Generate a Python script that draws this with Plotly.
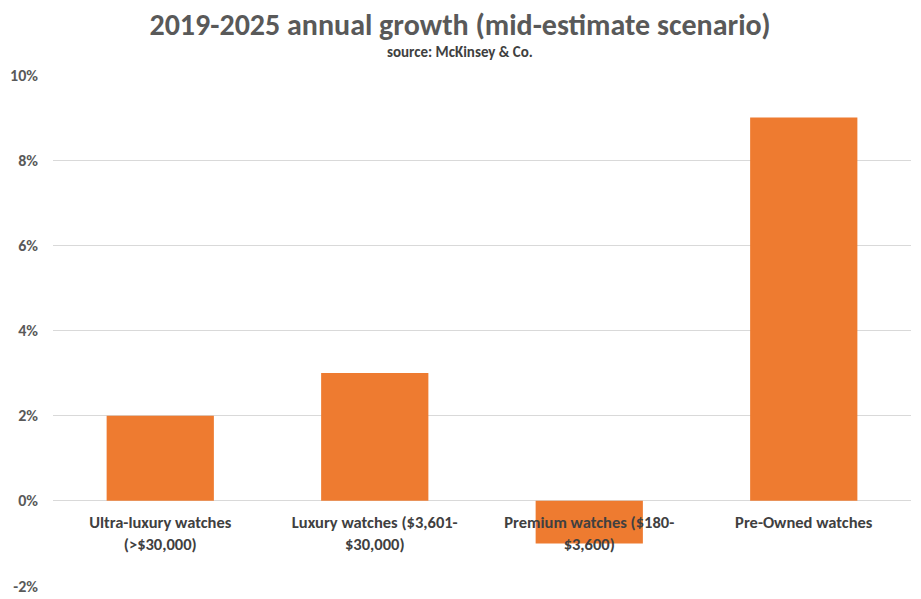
import plotly.graph_objects as go

categories = ["Ultra-luxury watches<br>(>$30,000)", "Luxury watches ($3,601-<br>$30,000)",
              "Premium watches ($180-<br>$3,600)", "Pre-Owned watches"]
growth = [2, 3, -1, 9]
tick_vals = [-2, 0, 2, 4, 6, 8, 10]
tick_text = ["<b>-2%</b>", "<b>0%</b>", "<b>2%</b>", "<b>4%</b>", "<b>6%</b>", "<b>8%</b>", "<b>10%</b>"]

FONT = "Carlito, Calibri, 'Liberation Sans Narrow', 'Open Sans', sans-serif"
OFF = 8  # page body margin
W, H = 921 - OFF, 599 - OFF
mt, mb, ml, mr = 75 - OFF, 13, 53 - OFF, 10

fig = go.Figure(go.Bar(
    x=categories, y=growth, width=0.5,
    marker=dict(color="#EE7B30", line=dict(width=0)),
))

fig.update_layout(
    width=W, height=H,
    margin=dict(l=ml, r=mr, t=mt, b=mb, autoexpand=False),
    paper_bgcolor="white", plot_bgcolor="white",
    font=dict(family=FONT, color="#595959"),
    showlegend=False,
    title=dict(text="<b>2019-2025 annual growth (mid-estimate scenario)</b>",
               x=(460 - OFF) / W, xanchor="center", y=1 - 6 / H, yanchor="top",
               font=dict(size=30, color="#595959", family=FONT)),
    xaxis=dict(anchor="free", position=1/6, showline=False, ticks="",
               showgrid=False, tickfont=dict(size=16.5, color="#404040"),
               ticklabelstandoff=10, automargin=False),
    yaxis=dict(range=[-2, 10], tickvals=tick_vals, ticktext=tick_text,
               showgrid=True, gridcolor="#D9D9D9", gridwidth=1,
               zeroline=True, zerolinecolor="#D9D9D9", zerolinewidth=1,
               showline=False, ticks="", ticklabelstandoff=14, automargin=False,
               tickfont=dict(size=16, color="#595959")),
    bargap=0.5,
)
fig.update_xaxes(ticktext=["<b>" + c + "</b>" for c in categories], tickvals=categories)

fig.add_annotation(text="<b>source: McKinsey & Co.</b>", xref="paper", yref="paper",
                   x=(460 - OFF - ml) / (W - ml - mr), y=(H - mb - (52 - OFF)) / (H - mt - mb),
                   xanchor="center", yanchor="middle", showarrow=False,
                   font=dict(size=15, color="#404040", family=FONT))

fig.write_html("out.html")
